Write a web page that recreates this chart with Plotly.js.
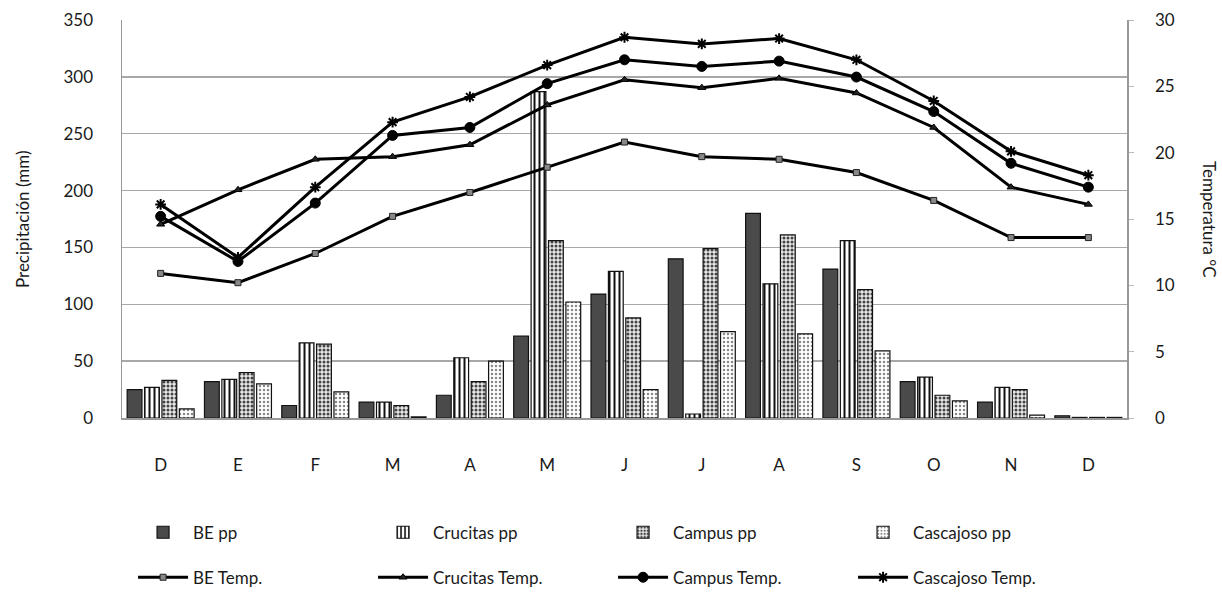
<!DOCTYPE html>
<html>
<head>
<meta charset="utf-8">
<script src="https://cdn.plot.ly/plotly-3.0.1.min.js"></script>
<style>html,body{margin:0;padding:0;background:#fff;}#chart{width:1222px;height:592px;}</style>
</head>
<body>
<div id="chart"></div>
<script>
// Categories (months, December to December)
const months = ['D', 'E', 'F', 'M', 'A', 'M', 'J', 'J', 'A', 'S', 'O', 'N', 'D'];

// Precipitation (mm)
const bePp        = [25, 32, 11, 14, 20, 72, 109, 140, 180, 131, 32, 14, 2];
const crucitasPp  = [27, 34, 66, 14, 53, 287, 129, 3.5, 118, 156, 36, 27, 0.5];
const campusPp    = [33, 40, 65, 11, 32, 156, 88, 149, 161, 113, 20, 25, 0.5];
const cascajosoPp = [8, 30, 23, 1, 50, 102, 25, 76, 74, 59, 15, 2.5, 0.5];

// Temperature (°C)
const beTemp        = [10.9, 10.2, 12.4, 15.2, 17.0, 18.9, 20.8, 19.7, 19.5, 18.5, 16.4, 13.6, 13.6];
const crucitasTemp  = [14.6, 17.2, 19.5, 19.7, 20.6, 23.6, 25.5, 24.9, 25.6, 24.5, 21.9, 17.4, 16.1];
const campusTemp    = [15.2, 11.8, 16.2, 21.3, 21.9, 25.2, 27.0, 26.5, 26.9, 25.7, 23.1, 19.2, 17.4];
const cascajosoTemp = [16.1, 12.1, 17.4, 22.3, 24.2, 26.6, 28.7, 28.2, 28.6, 27.0, 23.9, 20.1, 18.3];

const xIdx = months.map((m, i) => i);
const FONT = 'Lato, "Open Sans", sans-serif';
const TXT = '#1a1a1a';

function bar(name, y, color, pattern) {
  return {
    type: 'bar', name: name, x: xIdx, y: y,
    marker: { color: color, line: { color: '#111', width: 1.2 }, pattern: pattern },
    yaxis: 'y', legend: 'legend'
  };
}
function line(name, y, symbol, size, mcolor, mline) {
  return {
    type: 'scatter', mode: 'lines+markers', name: name, x: xIdx, y: y,
    yaxis: 'y2', legend: 'legend2',
    line: { color: '#000', width: 3 },
    marker: { symbol: symbol, size: size, color: mcolor, line: mline }
  };
}

const data = [
  bar('BE pp', bePp, '#4a4a4a', { shape: '' }),
  bar('Crucitas pp', crucitasPp, '#ffffff', { shape: '|', fgcolor: '#111', bgcolor: '#ffffff', size: 5, solidity: 0.4 }),
  bar('Campus pp', campusPp, '#dddddd', { shape: '.', fgcolor: '#444', bgcolor: '#e8e8e8', size: 4, solidity: 0.45 }),
  bar('Cascajoso pp', cascajosoPp, '#ffffff', { shape: '.', fgcolor: '#888', bgcolor: '#ffffff', size: 4, solidity: 0.3 }),
  line('BE Temp.', beTemp, 'square', 6, '#888', { color: '#222', width: 1 }),
  line('Crucitas Temp.', crucitasTemp, 'triangle-up', 7, '#222', { color: '#000', width: 1 }),
  line('Campus Temp.', campusTemp, 'circle', 10, '#000', { color: '#000', width: 1 }),
  line('Cascajoso Temp.', cascajosoTemp, 'asterisk-open', 9, '#000', { color: '#000', width: 2 })
];

const legendCommon = {
  orientation: 'h', xanchor: 'left', yanchor: 'top',
  entrywidth: 175, entrywidthmode: 'pixels',
  itemwidth: 50, bgcolor: 'rgba(0,0,0,0)',
  font: { family: FONT, size: 17, color: TXT },
  traceorder: 'normal'
};

const layout = {
  width: 1222, height: 592,
  margin: { l: 122, r: 95, t: 20, b: 174, autoexpand: false },
  paper_bgcolor: '#fff', plot_bgcolor: '#fff',
  font: { family: FONT, size: 17, color: TXT },
  barmode: 'group', bargap: 0.1, bargroupgap: 0.15,
  showlegend: true,
  xaxis: {
    tickmode: 'array', tickvals: xIdx, ticktext: months,
    range: [-0.5, 12.5],
    showline: true, linecolor: '#999', linewidth: 1.5,
    ticks: '', showgrid: false, zeroline: false,
    tickfont: { family: FONT, size: 17, color: TXT },
    ticklabelstandoff: 31
  },
  yaxis: {
    range: [0, 350], dtick: 50,
    showline: true, linecolor: '#999', linewidth: 1.5,
    showgrid: true, gridcolor: '#a8a8a8', gridwidth: 1.5,
    zeroline: false, ticks: '',
    tickfont: { family: FONT, size: 17, color: TXT },
    ticklabelstandoff: 24
  },
  yaxis2: {
    overlaying: 'y', side: 'right',
    range: [0, 30], dtick: 5,
    showline: true, linecolor: '#999', linewidth: 1.5,
    showgrid: false, zeroline: false,
    ticks: 'outside', ticklen: 5, tickcolor: '#bbb',
    tickfont: { family: FONT, size: 17, color: TXT },
    ticklabelstandoff: 18
  },
  legend: Object.assign({}, legendCommon, { x: 0.011, y: -0.243 }),
  legend2: Object.assign({}, legendCommon, { x: 0.011, y: -0.356 }),
  annotations: [
    { text: 'Precipitación (mm)', xref: 'paper', yref: 'paper', x: -0.0995, y: 0.5,
      xanchor: 'center', yanchor: 'middle', textangle: -90, showarrow: false,
      font: { family: FONT, size: 17, color: TXT } },
    { text: 'Temperatura °C', xref: 'paper', yref: 'paper', x: 1.0826, y: 0.5,
      xanchor: 'center', yanchor: 'middle', textangle: 90, showarrow: false,
      font: { family: FONT, size: 17, color: TXT } }
  ]
};

Plotly.newPlot('chart', data, layout, { displayModeBar: false, staticPlot: true });
</script>
</body>
</html>
